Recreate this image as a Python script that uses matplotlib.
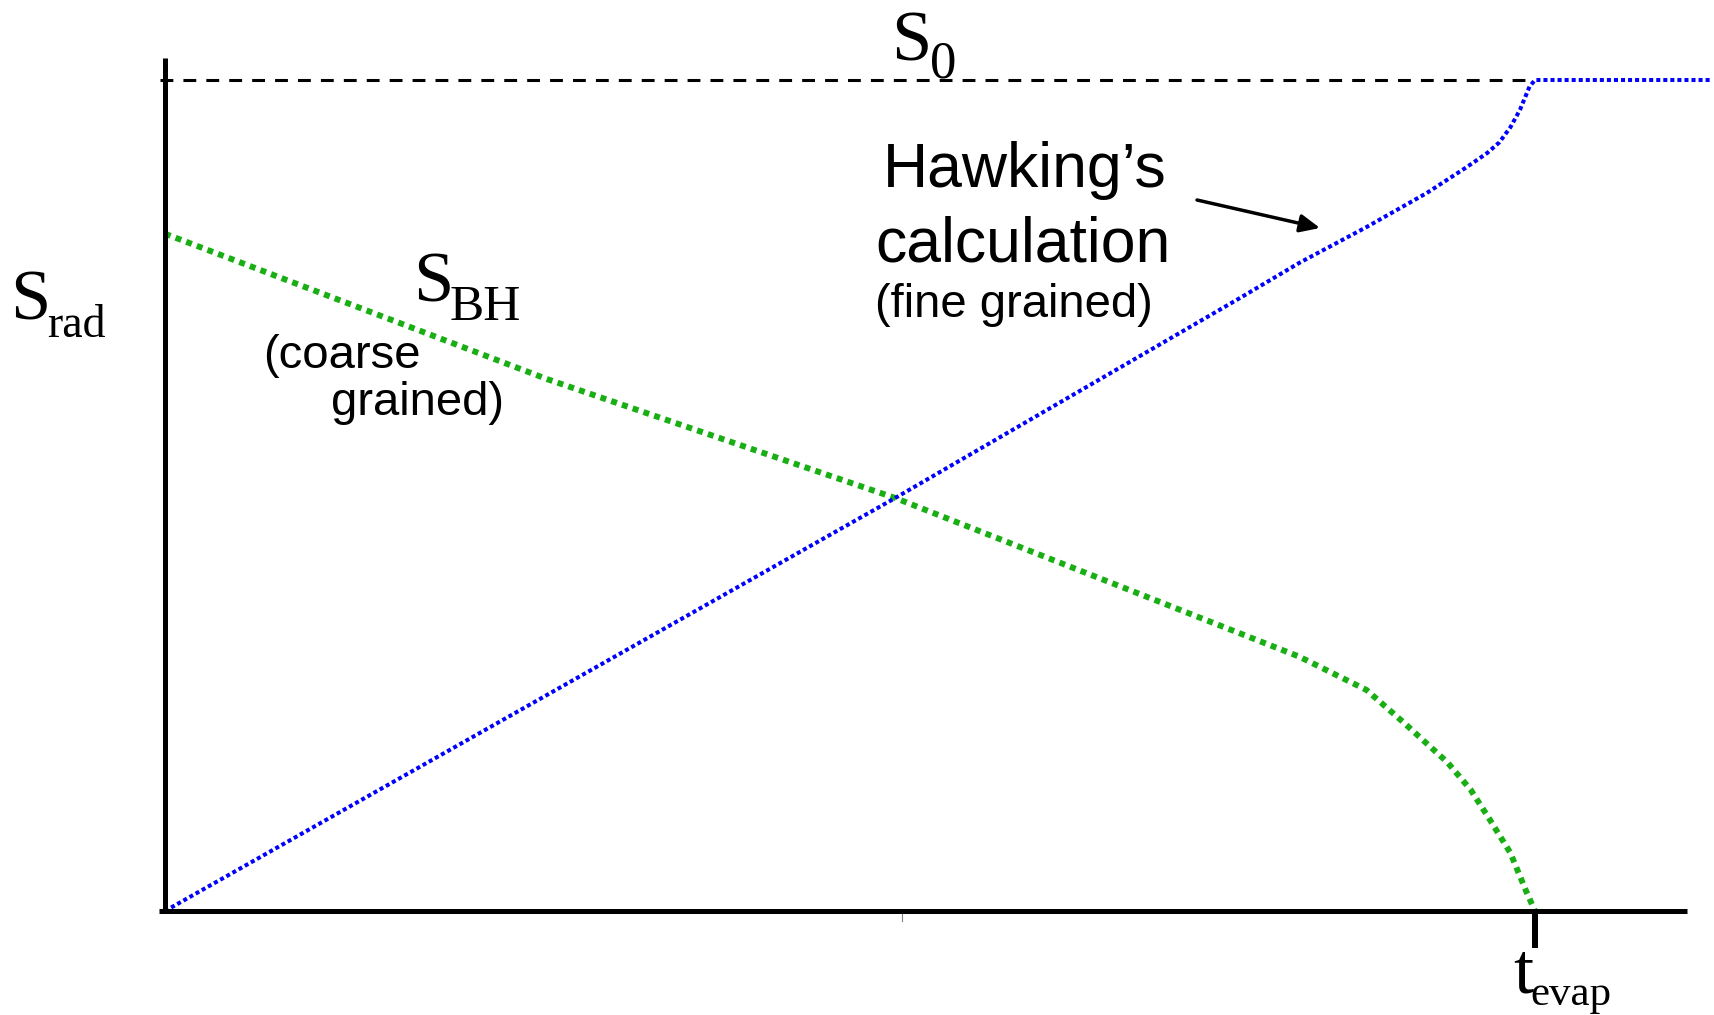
import matplotlib.pyplot as plt

# entropy curves, time in units of t_evap, entropy in units of S0
t_bh = [0, 0.279, 0.533, 0.828, 0.877, 0.904, 0.936, 0.953, 0.967, 0.982, 0.994, 1.0]
s_bh = [0.815, 0.640, 0.497, 0.306, 0.266, 0.227, 0.179, 0.146, 0.110, 0.070, 0.022, 0.0]

t_hawk = [0, 0.533, 0.785, 0.828, 0.877, 0.921, 0.950, 0.965, 0.974, 0.982, 0.989, 0.996, 1.0, 1.129]
s_hawk = [0, 0.497, 0.738, 0.780, 0.823, 0.864, 0.895, 0.912, 0.925, 0.943, 0.964, 0.992, 1.0, 1.0]

S0 = 1.0
t_evap = 1.0

fig = plt.figure(figsize=(17.15, 10.15), dpi=100)
ax = fig.add_axes([0, 0, 1, 1])
ax.set_xlim(-0.12044, 1.13139)
ax.set_ylim(-0.12515, 1.09627)
ax.axis('off')

serif = 'Liberation Serif'
sans = 'Liberation Sans'

# axes
ax.plot([0, 0], [0, 1.0265], color='black', lw=3.6, solid_capstyle='butt', zorder=3)
ax.plot([-0.0044, 1.111], [0, 0], color='black', lw=3.6, solid_capstyle='butt', zorder=3)
ax.plot([t_evap, t_evap], [0, -0.0445], color='black', lw=4.3, solid_capstyle='butt', zorder=3)
ax.plot([0.538, 0.538], [-0.003, -0.012], color='gray', lw=0.8)

# S0 level
ax.plot([-0.004, t_evap], [S0, S0], color='black', lw=2.2, linestyle=(0, (4.2, 3.3)),
        dash_capstyle='butt')

ax.plot(t_bh, s_bh, color='#19af14', lw=4.3, linestyle=(0, (1, 0.9)),
        dash_capstyle='butt', zorder=2)
ax.plot(t_hawk, s_hawk, color='#0000ff', lw=2.9, linestyle=(0, (1, 0.75)),
        dash_capstyle='butt', zorder=2)

# labels
ax.text(-0.1131, 0.7112, 'S', fontsize=52, family=serif, ha='left', va='baseline')
ax.text(-0.0862, 0.6907, 'rad', fontsize=33, family=serif, ha='left', va='baseline')

ax.text(0.1810, 0.7329, 'S', fontsize=52, family=serif, ha='left', va='baseline')
ax.text(0.2080, 0.7112, 'BH', fontsize=37, family=serif, ha='left', va='baseline')

ax.text(0.5300, 1.0229, 'S', fontsize=52, family=serif, ha='left', va='baseline')
ax.text(0.5584, 1.0036, '0', fontsize=38, family=serif, ha='left', va='baseline')

ax.text(0.9839, -0.0975, 't', fontsize=52, family=serif, ha='left', va='baseline')
ax.text(0.9964, -0.1131, 'evap', fontsize=31, family=serif, ha='left', va='baseline')

ax.text(0.6277, 0.8712, 'Hawking\u2019s', fontsize=45, family=sans, ha='center', va='baseline')
ax.text(0.6263, 0.7810, 'calculation', fontsize=45, family=sans, ha='center', va='baseline')
ax.text(0.5182, 0.7148, '(fine grained)', fontsize=34, family=sans, ha='left', va='baseline')

ax.text(0.0715, 0.6534, '(coarse', fontsize=34, family=sans, ha='left', va='baseline')
ax.text(0.1210, 0.5969, 'grained)', fontsize=34, family=sans, ha='left', va='baseline')

ax.annotate('', xy=(0.8431, 0.8219), xytext=(0.7533, 0.8556),
            arrowprops=dict(arrowstyle='-|>,head_length=0.6,head_width=0.27',
                            mutation_scale=20, lw=2.5, color='black',
                            shrinkA=0, shrinkB=0))

fig.savefig('out.png', dpi=100)
